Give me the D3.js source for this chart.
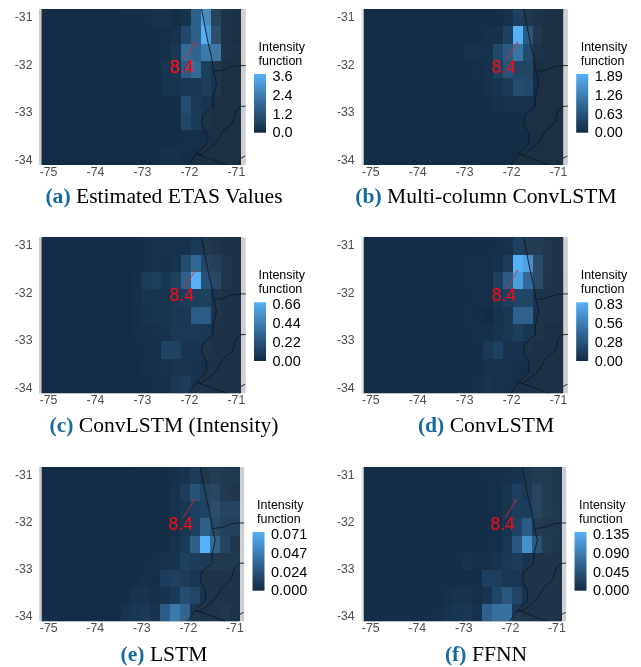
<!DOCTYPE html>
<html>
<head>
<meta charset="utf-8">
<script src="https://cdn.jsdelivr.net/npm/d3@7"></script>
<style>
    html, body { margin: 0; padding: 0; background: white; }
    svg { display: block; filter: blur(0.45px); }
</style>
</head>
<body>
<svg></svg>
<script>

// intensity grids, 9 rows (north to south) x 20 columns (west to east)
var etas = [
    [.07,.07,.07,.07,.07,.07,.07,.07,.08,.08,.09,.2,.2,.1,.2,1.5,3.2,.8,.25,.15],
    [.07,.07,.07,.07,.07,.07,.07,.07,.08,.08,.09,.1,.12,.2,.9,1.5,3.6,1.2,.2,.1],
    [.07,.07,.07,.07,.07,.07,.07,.07,.08,.08,.09,.1,.15,.4,1.8,1.6,2.2,2.5,.2,.15],
    [.07,.07,.07,.07,.07,.07,.07,.07,.07,.08,.08,.09,.3,.35,1.4,1.8,.6,.3,.1,.1],
    [.07,.07,.07,.07,.07,.07,.07,.07,.07,.08,.08,.09,.25,.3,.4,.4,.55,.3,.1,.1],
    [.07,.07,.07,.07,.07,.07,.07,.07,.07,.07,.08,.09,.1,.1,1.0,.45,.3,.1,.1,.1],
    [.07,.07,.07,.07,.07,.07,.07,.07,.07,.07,.07,.09,.1,.1,.8,.5,.25,.1,.1,.1],
    [.07,.07,.07,.07,.07,.07,.07,.07,.07,.07,.07,.08,.09,.1,.12,.12,.1,.1,.1,.1],
    [.07,.07,.07,.07,.07,.07,.07,.07,.07,.07,.07,.08,.18,.14,.1,.09,.09,.1,.1,.1]
];
var multiColumn = [
    [.04,.04,.04,.04,.04,.04,.04,.04,.04,.04,.04,.04,.04,.05,.1,.3,.2,.1,.05,.04],
    [.04,.04,.04,.04,.04,.04,.04,.04,.04,.04,.04,.05,.08,.1,.35,1.89,.7,.2,.05,.04],
    [.04,.04,.04,.04,.04,.04,.04,.04,.04,.04,.09,.1,.1,.45,.7,1.1,.5,.1,.04,.04],
    [.04,.04,.04,.04,.04,.04,.04,.04,.04,.04,.04,.07,.1,.35,.6,.4,.4,.05,.04,.04],
    [.04,.04,.04,.04,.04,.04,.04,.04,.04,.04,.04,.05,.08,.15,.25,.5,.45,.05,.04,.04],
    [.04,.04,.04,.04,.04,.04,.04,.04,.04,.04,.04,.04,.05,.08,.1,.1,.1,.04,.04,.04],
    [.04,.04,.04,.04,.04,.04,.04,.04,.04,.04,.04,.04,.04,.05,.05,.05,.04,.04,.04,.04],
    [.04,.04,.04,.04,.04,.04,.04,.04,.04,.04,.04,.04,.04,.04,.04,.04,.04,.04,.04,.04],
    [.04,.04,.04,.04,.04,.04,.04,.04,.04,.04,.04,.04,.04,.04,.04,.04,.04,.04,.04,.04]
];
var convIntensity = [
    [.013,.013,.013,.013,.013,.013,.013,.013,.013,.015,.02,.035,.04,.04,.04,.08,.08,.05,.03,.02],
    [.013,.013,.013,.013,.013,.013,.013,.013,.013,.015,.025,.04,.03,.04,.18,.32,.15,.12,.05,.03],
    [.013,.013,.013,.013,.013,.013,.013,.013,.013,.02,.09,.11,.07,.12,.28,.66,.2,.18,.05,.03],
    [.013,.013,.013,.013,.013,.013,.013,.013,.013,.02,.05,.055,.05,.08,.1,.1,.12,.05,.03,.03],
    [.013,.013,.013,.013,.013,.013,.013,.013,.013,.02,.04,.055,.05,.07,.07,.26,.26,.05,.03,.03],
    [.013,.013,.013,.013,.013,.013,.013,.013,.013,.025,.03,.035,.045,.08,.08,.08,.07,.03,.03,.03],
    [.013,.013,.013,.013,.013,.013,.013,.013,.013,.015,.025,.03,.13,.13,.06,.06,.045,.03,.03,.03],
    [.013,.013,.013,.013,.013,.013,.013,.013,.013,.013,.02,.03,.035,.05,.05,.045,.03,.03,.03,.03],
    [.013,.013,.013,.013,.013,.013,.013,.013,.013,.013,.015,.02,.03,.08,.1,.045,.03,.03,.03,.03]
];
var convLstm = [
    [.015,.015,.015,.015,.015,.015,.015,.015,.015,.015,.015,.02,.02,.03,.05,.15,.12,.12,.08,.05],
    [.015,.015,.015,.015,.015,.015,.015,.015,.015,.015,.03,.025,.03,.05,.12,.83,.75,.25,.08,.05],
    [.015,.015,.015,.015,.015,.015,.015,.015,.015,.015,.03,.025,.03,.13,.32,.72,.4,.26,.07,.04],
    [.015,.015,.015,.015,.015,.015,.015,.015,.015,.015,.02,.03,.03,.09,.13,.18,.18,.05,.04,.04],
    [.015,.015,.015,.015,.015,.015,.015,.015,.015,.015,.025,.02,.005,.05,.08,.36,.36,.05,.04,.04],
    [.015,.015,.015,.015,.015,.015,.015,.015,.015,.015,.02,.025,.03,.06,.09,.14,.09,.05,.03,.03],
    [.015,.015,.015,.015,.015,.015,.015,.015,.015,.015,.015,.02,.1,.15,.05,.05,.04,.03,.03,.03],
    [.015,.015,.015,.015,.015,.015,.015,.015,.015,.015,.015,.02,.045,.045,.04,.03,.03,.03,.03,.03],
    [.015,.015,.015,.015,.015,.015,.015,.015,.02,.02,.02,.025,.055,.045,.04,.03,.03,.03,.03,.03]
];
var lstm = [
    [.0012,.0012,.0012,.0012,.0012,.0012,.0012,.0012,.0012,.002,.002,.002,.002,.003,.005,.01,.007,.01,.009,.008],
    [.0012,.0012,.0012,.0012,.0012,.0012,.0012,.0012,.0012,.0012,.0012,.0012,.002,.004,.01,.023,.016,.018,.009,.006],
    [.0012,.0012,.0012,.0012,.0012,.0012,.0012,.0012,.0012,.0012,.0012,.0012,.002,.004,.007,.012,.014,.023,.016,.016],
    [.0012,.0012,.0012,.0012,.0012,.0012,.0012,.0012,.0012,.0012,.0012,.0012,.002,.003,.007,.012,.03,.02,.014,.014],
    [.0012,.0012,.0012,.0012,.0012,.0012,.0012,.0012,.0012,.0012,.0012,.002,.002,.004,.009,.03,.071,.036,.016,.006],
    [.0012,.0012,.0012,.0012,.0012,.0012,.0012,.0012,.0012,.0012,.002,.003,.004,.005,.013,.011,.009,.009,.008,.008],
    [.0012,.0012,.0012,.0012,.0012,.0012,.0012,.0012,.0012,.002,.003,.002,.011,.013,.01,.007,.005,.005,.005,.005],
    [.0012,.0012,.0012,.0012,.0012,.0012,.0012,.0012,.002,.005,.005,.003,.005,.009,.02,.016,.005,.005,.005,.005],
    [.0012,.0012,.0012,.0012,.0012,.0012,.0012,.0012,.006,.008,.009,.005,.028,.043,.032,.007,.005,.005,.007,.004]
];
var ffnn = [
    [.003,.003,.003,.003,.003,.003,.003,.003,.003,.003,.003,.003,.005,.006,.007,.01,.014,.02,.018,.011],
    [.003,.003,.003,.003,.003,.003,.003,.003,.003,.003,.003,.003,.003,.005,.011,.023,.016,.032,.018,.011],
    [.003,.003,.003,.003,.003,.003,.003,.003,.003,.003,.003,.003,.003,.005,.011,.02,.02,.032,.02,.014],
    [.003,.003,.003,.003,.003,.003,.003,.003,.003,.003,.003,.003,.003,.005,.011,.026,.052,.018,.014,.014],
    [.003,.003,.003,.003,.003,.003,.003,.003,.003,.003,.003,.003,.004,.005,.014,.048,.105,.052,.018,.011],
    [.003,.003,.003,.003,.003,.003,.003,.003,.003,.003,.009,.005,.006,.009,.016,.02,.011,.008,.008,.008],
    [.003,.003,.003,.003,.003,.003,.003,.003,.003,.003,.003,.004,.023,.023,.013,.014,.008,.008,.008,.008],
    [.003,.003,.003,.003,.003,.003,.003,.003,.007,.009,.009,.005,.009,.028,.048,.028,.009,.008,.008,.008],
    [.003,.003,.003,.003,.003,.003,.003,.005,.01,.012,.014,.007,.058,.073,.073,.016,.008,.008,.008,.008]
];

var legendTicks = [
    ["0.0", "1.2", "2.4", "3.6"],
    ["0.00", "0.63", "1.26", "1.89"],
    ["0.00", "0.22", "0.44", "0.66"],
    ["0.00", "0.28", "0.56", "0.83"],
    ["0.000", "0.024", "0.047", "0.071"],
    ["0.000", "0.045", "0.090", "0.135"]
];
var grids = [etas, multiColumn, convIntensity, convLstm, lstm, ffnn];
var letters = ["(a)", "(b)", "(c)", "(d)", "(e)", "(f)"];
var captions = ["Estimated ETAS Values", "Multi-column ConvLSTM", "ConvLSTM (Intensity)", "ConvLSTM", "LSTM", "FFNN"];

var lonTicks = [-75, -74, -73, -72, -71];
var latTicks = [-31, -32, -33, -34];
var magnitude = "8.4";
var epicenter = [-71.87, -31.55];
var labelEnd = [-72.1, -31.92];

// map lines, [lon, lat]
var coast = [[-71.73,-30.84],[-71.66,-31.21],[-71.59,-31.56],[-71.52,-31.84],[-71.48,-32.09],[-71.41,-32.40],[-71.48,-32.68],[-71.48,-32.89],[-71.70,-33.07],[-71.73,-33.25],[-71.62,-33.46],[-71.62,-33.67],[-71.84,-33.89],[-72.01,-34.12]];
var border1 = [[-71.46,-32.15],[-71.25,-32.12],[-71.07,-32.05],[-70.9,-32.03],[-70.78,-32.03]];
var border2 = [[-70.78,-32.88],[-70.9,-32.89],[-71.0,-32.98],[-71.07,-33.23],[-71.28,-33.41],[-71.35,-33.55],[-71.49,-33.72],[-71.73,-33.9],[-71.84,-33.89]];
var border3 = [[-71.84,-33.89],[-71.56,-33.98],[-71.2,-34.12]];
var border4 = [[-70.9,-33.98],[-70.8,-33.93]];

// layout of the six panels
var panelW = [199.5, 199.5, 199.5, 199.5, 197.8, 197.8];
var panelX = [41.5, 363.7, 41.5, 363.7, 41.7, 363.7];
var panelY = [9, 9, 237.3, 237.3, 467, 467];
var panelH = [156, 156, 156, 156, 154.3, 154.3];
var captionX = [164, 486, 164, 486, 164, 486];
var captionY = [203, 203, 432, 432, 661, 661];
var leftStrip = ["#cdcdcd", "#e6e6e6", "#cdcdcd", "#e6e6e6", "#cdcdcd", "#e6e6e6"];

var width = 641, height = 667;

var svg = d3.select("svg")
    .attr("width", width)
    .attr("height", height);

function drawPanel(index) {

    var grid = grids[index];
    var left = panelX[index], top = panelY[index];
    var w = panelW[index], h = panelH[index];
    var ticks = legendTicks[index];
    var maxValue = parseFloat(ticks[3]);

    var g = svg.append("g")
        .attr("transform", "translate(" + left + "," + top + ")");

    var color = d3.scaleLinear()
        .domain([0, maxValue])
        .range(["#132B43", "#56B1F7"])
        .interpolate(d3.interpolateLab)
        .clamp(true);

    var xBand = d3.scaleBand().domain(d3.range(20)).range([0, w]);
    var yBand = d3.scaleBand().domain(d3.range(9)).range([0, h]);

    // longitude / latitude scales, the window runs a little past -75 and -71
    var xScale = d3.scaleLinear().domain([-75.14, -70.89]).range([0, w]);
    var yScale = d3.scaleLinear().domain([-30.84, -34.12]).range([0, h]);

    // grey panel strips
    g.append("rect").attr("x", -2.5).attr("y", 0).attr("width", 2.5).attr("height", h).attr("fill", leftStrip[index]);
    g.append("rect").attr("x", w).attr("y", 0).attr("width", 4.7).attr("height", h).attr("fill", "#cfcfcf");

    // backing so no white shows between cells
    g.append("rect").attr("width", w).attr("height", h).attr("fill", color(0));

    grid.forEach(function(row, r) {
        g.selectAll(null)
            .data(row)
            .enter()
            .append("rect")
            .attr("x", (d, c) => xBand(c))
            .attr("y", yBand(r))
            .attr("width", xBand.bandwidth())
            .attr("height", yBand.bandwidth())
            .attr("shape-rendering", "crispEdges")
            .attr("fill", d => color(d));
    });

    var clipId = "clip" + index;
    g.append("clipPath").attr("id", clipId)
        .append("rect").attr("x", -2.5).attr("y", 0).attr("width", w + 7.2).attr("height", h);

    var map = g.append("g").attr("clip-path", "url(#" + clipId + ")");

    var line = d3.line().x(d => xScale(d[0])).y(d => yScale(d[1]));

    // land east of the coast is a touch greyer
    var land = coast.concat([[-70.89, -34.12], [-70.89, -30.84]]);
    map.append("path")
        .attr("d", line(land) + "Z")
        .attr("fill", "#3a3a3a")
        .attr("opacity", 0.2);

    [coast, border1, border2, border3, border4].forEach(function(points) {
        map.append("path")
            .attr("d", line(points))
            .attr("fill", "none")
            .attr("stroke", "#0c1a28")
            .attr("stroke-width", 0.9);
    });

    // magnitude label and its leader line
    g.append("line")
        .attr("x1", xScale(epicenter[0])).attr("y1", yScale(epicenter[1]))
        .attr("x2", xScale(labelEnd[0])).attr("y2", yScale(labelEnd[1]))
        .attr("stroke", "#e3262e").attr("stroke-width", 0.8);
    g.append("circle")
        .attr("cx", xScale(epicenter[0])).attr("cy", yScale(epicenter[1]))
        .attr("r", 0.9).attr("fill", "#e3262e");
    g.append("text")
        .attr("x", xScale(labelEnd[0]) - 2.5)
        .attr("y", yScale(labelEnd[1]) + 12.5)
        .attr("text-anchor", "middle")
        .attr("font-family", "Liberation Sans")
        .attr("font-size", 17.5)
        .attr("fill", "#ff0a14")
        .text(magnitude);

    // axes
    var xAxis = d3.axisBottom(xScale).tickValues(lonTicks).tickSize(0).tickPadding(0).tickFormat(d => String(d));
    var yAxis = d3.axisLeft(yScale).tickValues(latTicks).tickSize(0).tickPadding(9).tickFormat(d => String(d));

    var gx = g.append("g").attr("transform", "translate(0," + (h + 2) + ")").call(xAxis);
    var gy = g.append("g").call(yAxis);
    gx.select(".domain").remove();
    gy.select(".domain").remove();
    [gx, gy].forEach(function(a) {
        a.selectAll("text")
            .attr("font-family", "Liberation Sans")
            .attr("font-size", 12.3)
            .attr("fill", "#4d4d4d");
    });

    // colour bar
    var barX = w + 13, barW = 12;
    var barTop = 65, barBottom = 123.7;
    var gradId = "grad" + index;
    var grad = svg.append("linearGradient").attr("id", gradId)
        .attr("x1", 0).attr("y1", 1).attr("x2", 0).attr("y2", 0);
    grad.append("stop").attr("offset", 0).attr("stop-color", color(0));
    grad.append("stop").attr("offset", 0.5).attr("stop-color", color(maxValue / 2));
    grad.append("stop").attr("offset", 1).attr("stop-color", color(maxValue));

    var legend = g.append("g");
    legend.append("rect")
        .attr("x", barX).attr("y", barTop)
        .attr("width", barW).attr("height", barBottom - barTop)
        .attr("fill", "url(#" + gradId + ")");

    var legendScale = d3.scaleLinear().domain([0, 3]).range([barBottom - 0.5, barTop + 1.5]);
    legend.selectAll("text.tick")
        .data(ticks)
        .enter()
        .append("text")
        .attr("class", "tick")
        .attr("x", barX + 18.5)
        .attr("y", (d, i) => legendScale(i))
        .attr("dy", "0.36em")
        .attr("font-family", "Liberation Sans")
        .attr("font-size", 14.5)
        .attr("fill", "black")
        .text(d => d);

    ["Intensity", "function"].forEach(function(t, i) {
        legend.append("text")
            .attr("x", barX + 4.5)
            .attr("y", 42 + i * 14)
            .attr("font-family", "Liberation Sans")
            .attr("font-size", 12.5)
            .attr("fill", "black")
            .text(t);
    });

    // caption
    var cap = svg.append("text")
        .attr("x", captionX[index])
        .attr("y", captionY[index])
        .attr("text-anchor", "middle")
        .attr("font-family", "Liberation Serif")
        .attr("font-size", 21.6);
    cap.append("tspan").attr("font-weight", "bold").attr("fill", "#15699f").text(letters[index]);
    cap.append("tspan").attr("fill", "black").text(" " + captions[index]);
}

grids.forEach(function(value, index) {
    drawPanel(index);
});

</script>
</body>
</html>
